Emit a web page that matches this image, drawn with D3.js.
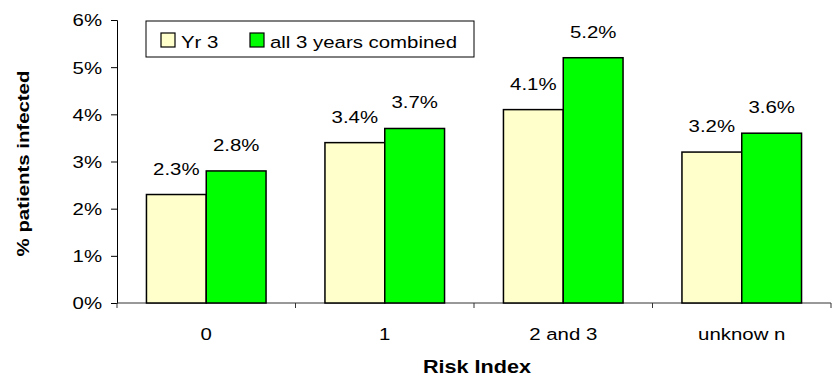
<!DOCTYPE html>
<html>
<head>
<meta charset="utf-8">
<script src="https://cdn.jsdelivr.net/npm/d3@7"></script>
<style>
  body { margin: 0; background: #fff; }
  text { font-family: Arial, "Liberation Sans", sans-serif; fill: #000; }
</style>
</head>
<body>
<div id="chart"></div>
<script>
var categories = ["0", "1", "2 and 3", "unknow n"];
var seriesNames = ["Yr 3", "all 3 years combined"];
var yr3 = [2.3, 3.4, 4.1, 3.2];
var combined = [2.8, 3.7, 5.2, 3.6];
var yTicks = [0, 1, 2, 3, 4, 5, 6];
var colors = ["#ffffcc", "#00ff00"];

var width = 832, height = 378;
var margin = { left: 117, top: 20, right: 1, bottom: 75 };
var SX = 1.2; // text in the original is stretched sideways

var svg = d3.select("#chart").append("svg")
  .attr("width", width)
  .attr("height", height);

// put a text at x,y with the horizontal stretch
function place(sel, x, y) {
  return sel.attr("transform", function(d, i) {
    var xx = typeof x === "function" ? x(d, i) : x;
    var yy = typeof y === "function" ? y(d, i) : y;
    return "translate(" + xx + "," + yy + ") scale(" + SX + ",1)";
  });
}

var x0 = d3.scaleBand()
  .domain(categories)
  .range([margin.left, width - margin.right])
  .paddingInner(0.33)
  .paddingOuter(0.165);

var x1 = d3.scaleBand()
  .domain([0, 1])
  .range([0, x0.bandwidth()]);

var y = d3.scaleLinear()
  .domain([0, 6])
  .range([height - margin.bottom, margin.top]);

var step = (width - margin.right - margin.left) / categories.length;

// y axis
var yAxis = svg.append("g")
  .attr("transform", "translate(" + margin.left + ",0)")
  .call(d3.axisLeft(y).tickValues(yTicks).tickSize(6).tickFormat(function(d) { return d + "%"; }));
yAxis.select(".domain").attr("stroke", "#000");
yAxis.selectAll(".tick line").attr("stroke", "#000");
yAxis.selectAll("text")
  .attr("font-size", "17px")
  .attr("font-family", null)
  .attr("fill", "#000")
  .attr("x", -15 / SX)
  .attr("dy", "0.35em")
  .attr("transform", "scale(" + SX + ",1)");

// x axis line and ticks between categories
svg.append("line")
  .attr("x1", margin.left).attr("x2", width - margin.right)
  .attr("y1", y(0)).attr("y2", y(0))
  .attr("stroke", "#333");

svg.selectAll(".xtick")
  .data(d3.range(categories.length + 1))
  .enter().append("line")
  .attr("x1", function(i) { return margin.left + i * step; })
  .attr("x2", function(i) { return margin.left + i * step; })
  .attr("y1", y(0)).attr("y2", y(0) + 5)
  .attr("stroke", "#333");

place(svg.selectAll(".xlab")
  .data(categories)
  .enter().append("text")
  .attr("text-anchor", "middle")
  .attr("font-size", "17px")
  .text(function(d) { return d; }),
  function(d) { return x0(d) + x0.bandwidth() / 2; }, y(0) + 37);

// bars
var rows = categories.map(function(c, i) { return { cat: c, vals: [yr3[i], combined[i]] }; });

var groups = svg.selectAll(".grp")
  .data(rows)
  .enter().append("g")
  .attr("transform", function(d) { return "translate(" + x0(d.cat) + ",0)"; });

groups.selectAll("rect")
  .data(function(d) { return d.vals.map(function(v, j) { return { v: v, j: j }; }); })
  .enter().append("rect")
  .attr("x", function(d) { return x1(d.j); })
  .attr("y", function(d) { return y(d.v); })
  .attr("width", x1.bandwidth())
  .attr("height", function(d) { return y(0) - y(d.v); })
  .attr("fill", function(d) { return colors[d.j]; })
  .attr("stroke", "#000")
  .attr("stroke-width", 1.5);

place(groups.selectAll(".lbl")
  .data(function(d) { return d.vals.map(function(v, j) { return { v: v, j: j }; }); })
  .enter().append("text")
  .attr("text-anchor", "middle")
  .attr("font-size", "17px")
  .text(function(d) { return d.v.toFixed(1) + "%"; }),
  function(d) { return x1(d.j) + x1.bandwidth() / 2; },
  function(d) { return y(d.v) - 20; });

// axis titles
svg.append("text")
  .attr("transform", "translate(29," + ((margin.top + y(0)) / 2 + 2) + ") rotate(-90) scale(" + SX + ",1)")
  .attr("text-anchor", "middle")
  .attr("font-size", "17px")
  .attr("font-weight", "bold")
  .text("% patients infected");

place(svg.append("text")
  .attr("text-anchor", "middle")
  .attr("font-size", "18px")
  .attr("font-weight", "bold")
  .text("Risk Index"),
  margin.left + 2 * step + 3, 373);

// legend
var legend = svg.append("g").attr("transform", "translate(146,21)");
legend.append("rect")
  .attr("width", 328).attr("height", 36)
  .attr("fill", "#fff").attr("stroke", "#000");
var legX = [15, 104];
seriesNames.forEach(function(name, i) {
  legend.append("rect")
    .attr("x", legX[i]).attr("y", 12)
    .attr("width", 14).attr("height", 14)
    .attr("fill", colors[i]).attr("stroke", "#000").attr("stroke-width", 1.2);
  place(legend.append("text")
    .attr("font-size", "17px")
    .text(name), legX[i] + 20, 21);
  legend.select("text:last-child").attr("dy", "0.35em");
});
</script>
</body>
</html>
